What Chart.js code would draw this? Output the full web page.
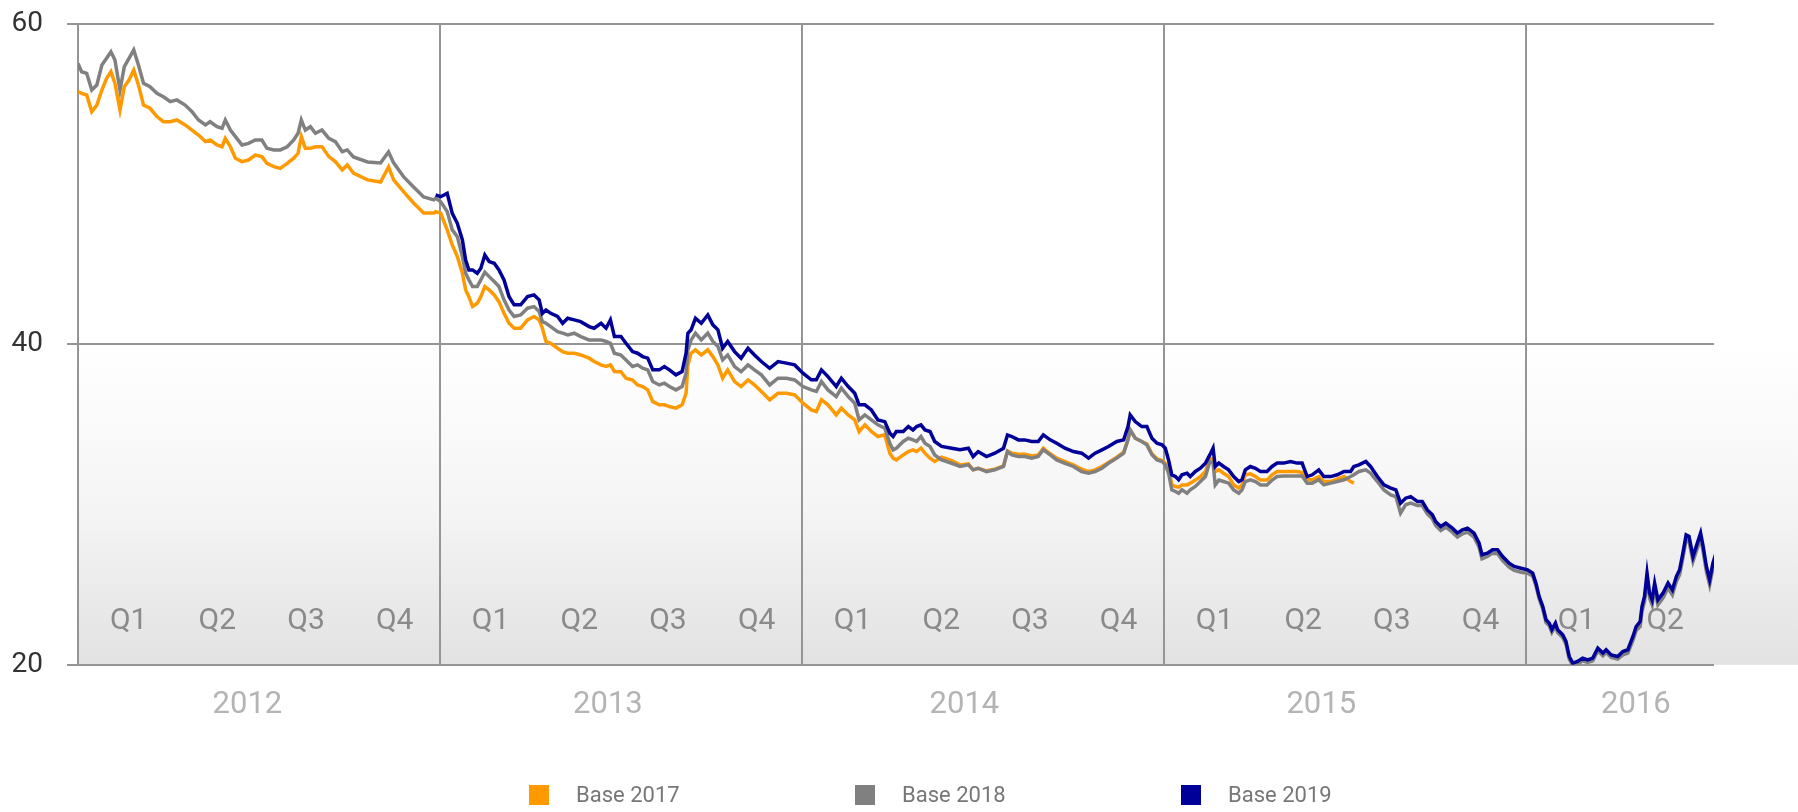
<!DOCTYPE html>
<html>
<head>
<meta charset="utf-8">
<script src="https://cdn.jsdelivr.net/npm/chart.js@4.4.1/dist/chart.umd.min.js"></script>
<style>
body{margin:0;background:#fff;}
#wrap{width:1798px;height:812px;position:relative;}
</style>
</head>
<body>
<div id="wrap"><canvas id="priceChart"></canvas></div>
<script>
/* data, x in decimal years */
const dates = [
  2012.000,2012.010,2012.024,2012.038,2012.052,2012.066,2012.079,2012.091,2012.102,2012.116,2012.128,2012.141,2012.154,2012.167,2012.181,2012.199,2012.218,2012.236,2012.255,2012.273,2012.296,2012.315,2012.333,2012.352,2012.365,2012.384,2012.398,2012.407,2012.421,2012.435,2012.453,2012.471,2012.490,2012.508,2012.522,2012.541,2012.559,2012.578,2012.596,2012.608,2012.617,2012.628,2012.642,2012.656,2012.674,2012.693,2012.711,2012.730,2012.744,
  2012.761,2012.800,2012.836,2012.858,2012.872,2012.900,2012.927,2012.955,2012.983,
  2012.988,2013.002,2013.020,2013.034,2013.048,2013.062,2013.071,2013.080,2013.090,2013.103,2013.113,2013.124,2013.136,2013.150,2013.163,2013.177,2013.191,2013.205,2013.223,2013.242,2013.260,2013.274,2013.283,2013.293,2013.306,2013.325,2013.339,2013.353,2013.371,2013.389,2013.412,2013.426,2013.445,2013.459,2013.471,2013.482,
  2013.500,2013.514,2013.532,2013.546,2013.560,2013.574,2013.588,2013.606,2013.620,2013.634,2013.652,2013.669,2013.680,2013.685,2013.694,2013.706,2013.722,2013.740,2013.754,2013.768,2013.781,2013.795,2013.814,2013.832,2013.851,2013.869,2013.888,2013.911,2013.934,2013.957,2013.980,2014.003,2014.026,2014.040,2014.054,2014.072,2014.095,2014.109,2014.128,2014.146,2014.158,2014.174,2014.192,2014.210,
  2014.229,2014.243,2014.252,2014.261,2014.280,2014.294,2014.307,2014.317,2014.329,2014.340,2014.354,2014.367,2014.386,2014.414,2014.437,2014.460,2014.473,2014.487,2014.510,2014.533,2014.557,2014.568,2014.580,2014.598,2014.616,2014.635,2014.653,2014.667,2014.686,2014.704,2014.727,2014.750,2014.773,2014.792,2014.810,2014.829,2014.847,2014.870,2014.889,2014.901,2014.907,2014.921,2014.939,
  2014.953,2014.967,2014.981,2014.995,2015.004,2015.013,2015.022,2015.032,2015.041,2015.050,2015.064,2015.073,2015.087,2015.101,2015.115,2015.127,2015.136,2015.142,2015.152,2015.165,2015.179,2015.193,2015.207,2015.216,2015.225,2015.239,2015.253,2015.267,2015.285,2015.299,2015.313,2015.331,2015.350,2015.368,2015.382,2015.396,2015.410,2015.428,2015.442,2015.461,2015.479,2015.498,2015.516,2015.525,2015.539,2015.558,2015.571,2015.590,2015.608,2015.627,2015.641,2015.654,2015.668,2015.682,
  2015.701,2015.714,2015.728,2015.742,2015.751,2015.765,2015.779,2015.797,2015.811,2015.825,2015.839,2015.857,2015.871,2015.879,2015.894,2015.908,2015.922,2015.936,2015.954,2015.968,2015.987,2016.005,2016.019,2016.028,2016.037,2016.047,2016.056,2016.065,2016.072,2016.082,2016.088,2016.102,2016.111,2016.120,2016.130,2016.143,2016.157,2016.171,2016.185,2016.199,2016.213,2016.222,2016.236,2016.254,2016.268,2016.282,2016.296,2016.305,2016.316,2016.321,2016.328,2016.335,2016.342,2016.349,2016.356,2016.365,2016.379,2016.393,2016.405,2016.416,2016.425,2016.434,2016.443,2016.451,2016.462,2016.471,2016.483,2016.490,2016.499,2016.508,2016.517,2016.524,2016.529
];

// Base 2017 starts with the first date
const base2017 = [
  55.78,55.67,55.57,54.53,54.94,55.88,56.61,57.02,56.30,54.63,56.09,56.50,57.13,56.19,54.94,54.74,54.22,53.90,53.90,54.01,53.70,53.38,53.07,52.66,52.76,52.45,52.34,52.86,52.34,51.62,51.41,51.51,51.82,51.72,51.30,51.10,50.99,51.30,51.62,51.93,52.97,52.24,52.24,52.34,52.34,51.72,51.41,50.89,51.20,
  50.70,50.27,50.14,51.08,50.27,49.52,48.83,48.21,48.21,
  48.29,48.19,47.15,46.21,45.48,44.44,43.40,42.98,42.36,42.57,42.98,43.61,43.40,43.09,42.67,41.94,41.32,41.01,41.01,41.53,41.74,41.53,41.01,40.18,40.07,39.76,39.55,39.45,39.45,39.34,39.14,38.93,38.72,38.62,38.72,38.31,
  38.30,37.89,37.78,37.47,37.37,37.16,36.43,36.23,36.23,36.12,36.02,36.23,36.95,38.72,39.45,39.66,39.34,39.66,39.24,38.72,37.89,38.41,37.68,37.37,37.78,37.47,37.06,36.54,36.95,36.95,36.85,36.33,35.91,35.81,36.54,36.23,35.60,36.02,35.60,35.29,34.56,34.98,34.56,34.25,
  34.35,33.21,32.90,32.79,33.10,33.31,33.42,33.31,33.52,33.21,32.90,32.69,32.96,32.75,32.48,32.54,32.17,32.27,32.11,32.21,32.42,33.35,33.21,33.15,33.15,33.04,33.10,33.52,33.17,32.90,32.69,32.48,32.21,32.06,32.17,32.38,32.63,32.96,33.27,34.08,34.66,34.14,33.94,
  33.79,33.17,32.86,32.75,32.59,32.27,31.23,31.13,31.09,31.23,31.23,31.34,31.53,31.75,32.07,32.90,32.79,32.07,32.17,31.96,31.75,31.23,31.03,31.23,31.86,31.92,31.75,31.53,31.53,31.86,32.07,32.07,32.07,32.07,32.00,31.55,31.55,31.75,31.44,31.44,31.59,31.75,31.44,31.34
];

// Base 2018 covers every date
const base2018 = [
  57.54,57.02,56.92,55.88,56.19,57.44,57.86,58.27,57.75,55.88,57.34,57.86,58.38,57.44,56.30,56.09,55.67,55.46,55.15,55.26,54.94,54.53,54.01,53.70,53.90,53.59,53.49,54.01,53.38,52.97,52.45,52.55,52.76,52.76,52.24,52.14,52.14,52.34,52.76,53.18,54.01,53.38,53.59,53.18,53.38,52.86,52.66,52.03,52.14,
  51.70,51.39,51.33,52.01,51.33,50.45,49.83,49.20,49.02,
  49.12,48.91,48.29,47.15,46.73,45.48,44.44,44.03,43.61,43.61,44.03,44.51,44.23,43.92,43.61,42.78,42.15,41.74,41.84,42.26,42.36,42.05,41.42,41.32,41.11,40.80,40.70,40.59,40.70,40.49,40.28,40.28,40.28,40.18,40.07,39.45,
  39.34,39.03,38.62,38.72,38.51,38.41,37.68,37.47,37.58,37.37,37.16,37.37,38.20,39.66,40.28,40.70,40.28,40.70,40.18,39.87,39.03,39.34,38.62,38.30,38.72,38.41,38.10,37.47,37.89,37.89,37.78,37.37,37.16,37.06,37.68,37.16,36.74,37.27,36.74,36.33,35.29,35.60,35.29,34.98,
  34.77,33.83,33.42,33.52,33.94,34.14,34.04,33.94,34.25,33.83,33.63,33.10,32.79,32.58,32.38,32.48,32.17,32.27,32.06,32.17,32.38,33.31,33.10,33.00,33.00,32.90,33.00,33.42,33.10,32.79,32.58,32.38,32.06,31.96,32.06,32.27,32.58,32.90,33.21,34.04,34.66,34.14,33.94,
  33.73,33.11,32.79,32.69,32.48,31.96,30.92,30.82,30.71,30.92,30.71,30.92,31.13,31.44,31.75,32.69,32.59,31.23,31.53,31.44,31.34,30.92,30.71,30.92,31.44,31.55,31.44,31.23,31.23,31.53,31.75,31.79,31.79,31.79,31.79,31.34,31.34,31.55,31.23,31.34,31.44,31.55,31.75,31.86,32.07,32.17,31.96,31.44,30.92,30.61,30.50,29.47,29.99,30.09,
  29.94,29.94,29.42,29.11,28.70,28.38,28.59,28.28,27.97,28.18,28.28,27.97,27.34,26.61,26.76,26.97,26.93,26.51,26.10,25.89,25.78,25.72,25.55,24.93,24.10,23.47,22.64,22.43,22.02,22.43,22.02,21.71,21.29,20.35,19.94,20.04,20.25,20.15,20.25,20.87,20.56,20.77,20.46,20.35,20.62,20.73,21.52,22.14,22.39,23.33,23.95,25.41,24.16,23.74,24.79,23.74,24.16,24.79,24.37,25.20,25.62,26.66,27.80,27.70,26.45,27.07,27.90,27.07,25.82,24.99,26.03,26.55,25.82
];

// Base 2019 starts at the end of 2012
const base2019First = 2012.988;
const base2019 = [
  49.33,49.22,49.43,48.18,47.56,46.52,45.27,44.65,44.65,44.44,44.75,45.58,45.17,45.06,44.65,44.02,42.98,42.47,42.47,42.98,43.09,42.78,41.94,42.15,41.94,41.74,41.32,41.63,41.53,41.42,41.11,41.01,41.32,41.01,41.53,40.49,
  40.49,40.07,39.55,39.45,39.24,39.14,38.41,38.41,38.62,38.41,38.10,38.30,39.45,40.70,40.91,41.63,41.32,41.84,41.22,40.91,39.76,40.18,39.55,39.14,39.76,39.34,38.93,38.51,38.93,38.83,38.72,38.20,37.79,37.79,38.41,37.99,37.37,37.89,37.37,36.95,36.23,36.23,35.91,35.29,
  35.18,34.46,34.25,34.56,34.56,34.87,34.66,34.87,34.98,34.66,34.56,33.94,33.63,33.52,33.42,33.52,33.00,33.31,33.00,33.21,33.52,34.35,34.25,34.04,34.04,33.94,33.94,34.35,34.04,33.83,33.52,33.31,33.21,32.90,33.21,33.42,33.63,33.94,34.04,34.87,35.60,35.18,34.87,
  34.87,34.14,33.83,33.73,33.52,32.79,31.86,31.75,31.55,31.86,31.96,31.75,32.07,32.27,32.59,33.10,33.52,32.38,32.59,32.38,32.17,31.75,31.44,31.55,32.17,32.38,32.27,32.07,32.07,32.38,32.59,32.59,32.69,32.59,32.59,31.75,31.86,32.17,31.75,31.75,31.86,32.07,32.07,32.38,32.48,32.69,32.38,31.75,31.23,31.03,30.92,30.09,30.40,30.50,
  30.19,30.19,29.67,29.36,28.94,28.63,28.84,28.53,28.22,28.43,28.53,28.22,27.59,26.87,26.97,27.18,27.18,26.76,26.34,26.14,26.03,25.93,25.72,25.10,24.26,23.64,22.81,22.60,22.19,22.60,22.19,21.87,21.46,20.52,20.10,20.21,20.42,20.31,20.42,21.04,20.73,20.94,20.62,20.52,20.83,20.94,21.77,22.39,22.70,23.64,24.26,25.72,24.47,24.06,25.10,24.06,24.47,25.10,24.68,25.51,25.93,26.97,28.11,28.01,26.76,27.39,28.22,27.39,26.14,25.30,26.34,26.87,26.14
];

const years = [2012, 2013, 2014, 2015, 2016];
const yearLabelPos = [2012.468, 2013.464, 2014.449, 2015.435, 2016.304];
const quarters = ['Q1', 'Q2', 'Q3', 'Q4'];
const quarterOffset = [0.14, 0.385, 0.63, 0.875];
const xEnd = 2016.52;
const yTicks = [20, 40, 60];

const gridColor = '#959595';
Chart.defaults.font.family = 'Roboto';

function toPoints(values, firstDate) {
  const i0 = dates.indexOf(firstDate);
  return values.map((v, i) => ({ x: dates[i0 + i], y: v }));
}

/* grey fade behind the lower half */
const bgPlugin = {
  id: 'bgFade',
  beforeDraw(chart) {
    const { ctx, chartArea, scales } = chart;
    const top = scales.y.getPixelForValue(40);
    const g = ctx.createLinearGradient(0, top, 0, chartArea.bottom);
    g.addColorStop(0, '#ffffff');
    g.addColorStop(0.5, '#f5f5f5');
    g.addColorStop(1, '#e2e2e2');
    ctx.save();
    ctx.fillStyle = g;
    ctx.fillRect(chartArea.left, top, chart.width - chartArea.left, chartArea.bottom - top);
    ctx.restore();
  }
};

/* Q1..Q4 inside the plot */
const quarterPlugin = {
  id: 'quarterLabels',
  beforeDatasetsDraw(chart) {
    const { ctx, chartArea, scales } = chart;
    ctx.save();
    ctx.font = '30px Roboto';
    ctx.fillStyle = '#8a8a8a';
    ctx.textAlign = 'center';
    ctx.textBaseline = 'middle';
    years.forEach(yr => {
      quarters.forEach((q, i) => {
        const v = yr + quarterOffset[i];
        if (v < xEnd) ctx.fillText(q, scales.x.getPixelForValue(v), chartArea.bottom - 43);
      });
    });
    ctx.restore();
  }
};

/* legend with wide gaps */
const legendPlugin = {
  id: 'boxLegend',
  afterDraw(chart) {
    const ctx = chart.ctx;
    ctx.save();
    ctx.font = '22px Roboto';
    ctx.textBaseline = 'middle';
    ctx.textAlign = 'left';
    chart.data.datasets.forEach((ds, i) => {
      const x0 = 529 + i * 326;
      ctx.fillStyle = ds.borderColor;
      ctx.fillRect(x0, 785, 20, 20);
      ctx.fillStyle = '#777777';
      ctx.fillText(ds.label, x0 + 47, 796);
    });
    ctx.restore();
  }
};

new Chart(document.getElementById('priceChart'), {
  type: 'line',
  data: {
    datasets: [
      { label: 'Base 2017', data: toPoints(base2017, dates[0]), borderColor: '#ff9900', order: 3 },
      { label: 'Base 2018', data: toPoints(base2018, dates[0]), borderColor: '#808080', order: 2 },
      { label: 'Base 2019', data: toPoints(base2019, base2019First), borderColor: '#000099', order: 1 }
    ]
  },
  options: {
    responsive: true,
    maintainAspectRatio: false,
    animation: false,
    elements: {
      line: { borderWidth: 3.5, tension: 0, fill: false },
      point: { radius: 0 }
    },
    layout: { padding: { left: 12, right: 84, top: 24, bottom: 66 } },
    plugins: {
      legend: { display: false },
      tooltip: { enabled: false }
    },
    scales: {
      x: {
        type: 'linear',
        min: 2012,
        max: xEnd,
        afterBuildTicks(axis) {
          axis.ticks = years.concat(yearLabelPos).sort((a, b) => a - b).map(v => ({ value: v }));
        },
        ticks: {
          autoSkip: false,
          maxRotation: 0,
          padding: 22,
          color: '#b4b4b4',
          font: { size: 31 },
          callback(v) {
            const i = yearLabelPos.indexOf(v);
            return i >= 0 ? String(years[i]) : '';
          }
        },
        grid: {
          drawTicks: false,
          lineWidth: 2,
          color: ctx => (ctx.tick && years.includes(ctx.tick.value)) ? gridColor : 'rgba(0,0,0,0)'
        },
        border: { display: false }
      },
      y: {
        min: 20,
        max: 60,
        afterBuildTicks(axis) {
          axis.ticks = yTicks.map(v => ({ value: v }));
        },
        afterFit(axis) {
          axis.width = 66;
          axis.paddingTop = 0;
          axis.paddingBottom = 0;
        },
        ticks: { padding: 24, color: '#333333', font: { size: 28 } },
        grid: { color: gridColor, lineWidth: 2, tickLength: 11 },
        border: { display: false }
      }
    }
  },
  plugins: [bgPlugin, quarterPlugin, legendPlugin]
});
</script>
</body>
</html>
